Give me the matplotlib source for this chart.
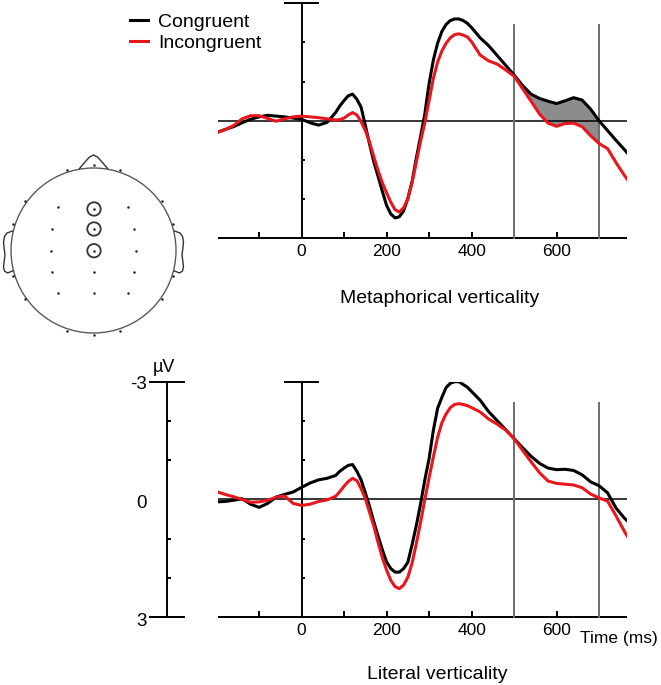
import numpy as np
import matplotlib.pyplot as plt
from matplotlib.patches import Circle

plt.rcParams['font.family'] = ['Liberation Sans', 'DejaVu Sans']

# ---- data (µV, negative plotted upward) ----
times = np.array([-200, -180, -160, -140, -120, -100, -80, -60, -40, -20, 0, 20, 40, 60, 80,
                  90, 100, 110, 120, 130, 140, 150, 160, 170, 180, 190, 200, 210, 220, 230,
                  240, 250, 260, 270, 280, 290, 300, 310, 320, 330, 340, 350, 360, 370, 380,
                  390, 400, 420, 440, 460, 480, 500, 520, 540, 560, 580, 600, 620, 640, 660,
                  680, 700, 720, 740, 760, 770])

metaphor_congruent = np.array([
    0.30, 0.22, 0.15, 0.05, -0.04, -0.10, -0.14, -0.12, -0.10, -0.07, -0.04, 0.05, 0.11, 0.04, -0.21,
    -0.38, -0.52, -0.64, -0.68, -0.55, -0.35, 0.12, 0.60, 1.05, 1.42, 1.80, 2.16, 2.38, 2.48, 2.45,
    2.30, 1.98, 1.55, 0.95, 0.40, -0.18, -0.95, -1.55, -1.98, -2.28, -2.46, -2.56, -2.60, -2.60, -2.56,
    -2.49, -2.38, -2.12, -1.92, -1.67, -1.42, -1.17, -0.90, -0.68, -0.57, -0.50, -0.44, -0.51, -0.59, -0.53,
    -0.30, 0.00, 0.25, 0.50, 0.74, 0.87])
metaphor_incongruent = np.array([
    0.30, 0.23, 0.12, -0.05, -0.13, -0.13, -0.06, 0.01, -0.05, -0.10, -0.12, -0.10, -0.08, -0.05, -0.02,
    -0.03, -0.07, -0.15, -0.21, -0.15, 0.02, 0.25, 0.55, 0.92, 1.27, 1.58, 1.84, 2.08, 2.27, 2.33,
    2.22, 2.00, 1.58, 1.05, 0.52, 0.05, -0.52, -1.08, -1.50, -1.78, -1.98, -2.12, -2.20, -2.22, -2.19,
    -2.14, -2.02, -1.68, -1.53, -1.45, -1.30, -1.14, -0.82, -0.50, -0.17, 0.06, 0.14, 0.07, 0.06, 0.15,
    0.38, 0.58, 0.71, 1.07, 1.40, 1.55])
literal_congruent = np.array([
    0.06, 0.05, 0.02, -0.02, 0.12, 0.20, 0.10, -0.06, -0.13, -0.19, -0.31, -0.42, -0.50, -0.54, -0.61,
    -0.72, -0.80, -0.87, -0.89, -0.72, -0.50, -0.17, 0.18, 0.57, 0.93, 1.28, 1.59, 1.76, 1.85, 1.85,
    1.76, 1.60, 1.15, 0.66, 0.11, -0.50, -1.04, -1.76, -2.32, -2.60, -2.85, -2.96, -3.00, -3.00, -2.93,
    -2.86, -2.75, -2.53, -2.24, -2.01, -1.78, -1.55, -1.32, -1.10, -0.92, -0.80, -0.76, -0.77, -0.74, -0.63,
    -0.45, -0.35, -0.17, 0.22, 0.48, 0.58])
literal_incongruent = np.array([
    -0.20, -0.13, -0.07, 0.00, 0.07, 0.06, 0.02, -0.06, -0.09, 0.10, 0.15, 0.12, 0.05, 0.01, -0.08,
    -0.20, -0.34, -0.46, -0.54, -0.48, -0.28, -0.02, 0.33, 0.68, 1.10, 1.48, 1.80, 2.06, 2.22, 2.27,
    2.18, 1.98, 1.62, 1.12, 0.58, 0.00, -0.55, -1.08, -1.58, -1.95, -2.18, -2.34, -2.42, -2.44, -2.42,
    -2.39, -2.34, -2.23, -2.05, -1.92, -1.77, -1.55, -1.25, -0.96, -0.68, -0.47, -0.41, -0.39, -0.37, -0.30,
    -0.14, -0.04, 0.04, 0.42, 0.82, 1.00])

x_ticks = [-100, 100, 200, 300, 400, 600]
x_ticklabels = [0, 200, 400, 600]
y_ticks = [-2, -1, 1, 2]
windows = [500, 700]
labels = ['Congruent', 'Incongruent']

# head map electrodes (pixel positions of the sketch)
elec_x = [94, 66.7, 120, 25, 161.7, 13.3, 173.3, 13.3, 173.3, 25, 161.7, 66.7, 94, 120,
          58.3, 94, 128.3, 52.3, 94, 134, 50.7, 94, 136, 52.3, 94, 134, 58.3, 94, 128.3]
elec_y = [165, 170, 170, 200.7, 200.7, 224, 224, 276, 276, 299.3, 299.3, 330.7, 335, 330.7,
          207.3, 209, 207.3, 229, 229, 229, 250.7, 250.7, 250.7, 271.7, 271.7, 271.7, 293.3, 292.7, 293.3]
highlight = [15, 18, 21]

RED = '#e8161d'
W, H = 661, 685
X0, X1 = 218.3, 626.7
T0, T1 = -196, 765
PX_PER_MS = (X1 - X0) / (T1 - T0)

fig = plt.figure(figsize=(W / 100, H / 100), dpi=100)

# pixel overlay for head sketch and free text
axp = fig.add_axes([0, 0, 1, 1])
axp.set_xlim(0, W)
axp.set_ylim(H, 0)
axp.axis('off')


def panel(top_px, bot_px):
    ax = fig.add_axes([X0 / W, 1 - bot_px / H, (X1 - X0) / W, (bot_px - top_px) / H])
    ax.set_xlim(T0, T1)
    ax.set_ylim(3, -3)
    ax.axis('off')
    return ax


def draw_panel(ax, cong, incong, shade=False):
    kw = dict(color='black', lw=1.4, clip_on=False, solid_capstyle='butt')
    ax.plot([T0, T1], [3, 3], **kw)
    ax.plot([0, 0], [-3, 3], **kw)
    ax.plot([-41, 41], [-3, -3], **kw)
    for v in y_ticks:
        ax.plot([0, 9], [v, v], **kw)
    for t in x_ticks:
        ax.plot([t, t], [3, 2.85], **kw)
    ax.axhline(0, color='black', lw=1.1)
    for t in windows:
        ax.plot([t, t], [3, -2.45], color='#6e6e6e', lw=1.4, clip_on=False)
    if shade:
        ax.fill_between(times, cong, incong, where=(times >= 500) & (times <= 700),
                        color='#8c8c8c', lw=0)
    l1, = ax.plot(times, cong, color='black', lw=2.2)
    l2, = ax.plot(times, incong, color=RED, lw=2.2)
    for t in x_ticklabels:
        ax.annotate(str(t), (t, 3), xytext=(0, -13), textcoords='offset points',
                    ha='center', va='baseline', fontsize=12.5)
    return l1, l2


ax_top = panel(3.3, 238.3)
h = draw_panel(ax_top, metaphor_congruent, metaphor_incongruent, shade=True)
ax_bot = panel(381.7, 617.3)
draw_panel(ax_bot, literal_congruent, literal_incongruent)

axp.text(439.7, 303, 'Metaphorical verticality', ha='center', va='baseline', fontsize=14)
axp.text(437.5, 679, 'Literal verticality', ha='center', va='baseline', fontsize=14)
axp.text(580, 643.3, 'Time (ms)', ha='left', va='baseline', fontsize=12.5)

# amplitude scale bar left of the bottom panel
sb = (167 - X0) / PX_PER_MS + T0
cap = 17.5 / PX_PER_MS
kw = dict(color='black', lw=1.4, clip_on=False, solid_capstyle='butt')
ax_bot.plot([sb, sb], [-3, 3], **kw)
ax_bot.plot([sb - cap - 2, sb + cap], [-3, -3], **kw)
ax_bot.plot([sb - cap - 2, sb + cap], [3, 3], **kw)
for v in y_ticks:
    ax_bot.plot([sb, sb + 4 / PX_PER_MS], [v, v], **kw)
lab_x = (147 - X0) / PX_PER_MS + T0
for v, txt, dy in [(-3, '-3', -5), (0, '0', -6), (3, '3', -6)]:
    ax_bot.annotate(txt, (lab_x, v), xytext=(0, dy), textcoords='offset points',
                    ha='right', va='baseline', fontsize=13.5, annotation_clip=False)
axp.text(153, 371.7, 'µV', ha='left', va='baseline', fontsize=13)

fig.legend(h, labels, loc='upper left', bbox_to_anchor=(130 / W, 1 - 13 / H),
           frameon=False, fontsize=14, handlelength=0.95, handletextpad=0.5,
           labelspacing=0.19, borderpad=0, borderaxespad=0)

# head sketch
cx, cy, r = 93.5, 250.5, 82.5
axp.add_patch(Circle((cx, cy), r, fill=False, ec='#5a5a5a', lw=1.0))
nose_x = [79.5, 85, 89.5, 93.5, 97.5, 102, 107.5]
nose_y = [168.5, 162, 157, 155, 157, 162, 168.5]
axp.plot(nose_x, nose_y, color='#333333', lw=1.0)
ear_x = np.array([12.5, 7, 4.5, 3.5, 4.2, 5.0, 4.2, 3.5, 4.5, 7.5, 12.5])
ear_y = [231, 233, 236.5, 242, 249, 255, 261, 267, 271, 273, 271]
axp.plot(ear_x, ear_y, color='#333333', lw=1.0)
axp.plot(2 * cx - ear_x, ear_y, color='#333333', lw=1.0)
axp.plot(elec_x, elec_y, 'o', ms=1.8, color='#222222', mec='none')
for i in highlight:
    axp.add_patch(Circle((elec_x[i], elec_y[i]), 6.7, fill=False, ec='#333333', lw=1.3))

fig.savefig('out.png', dpi=100)
